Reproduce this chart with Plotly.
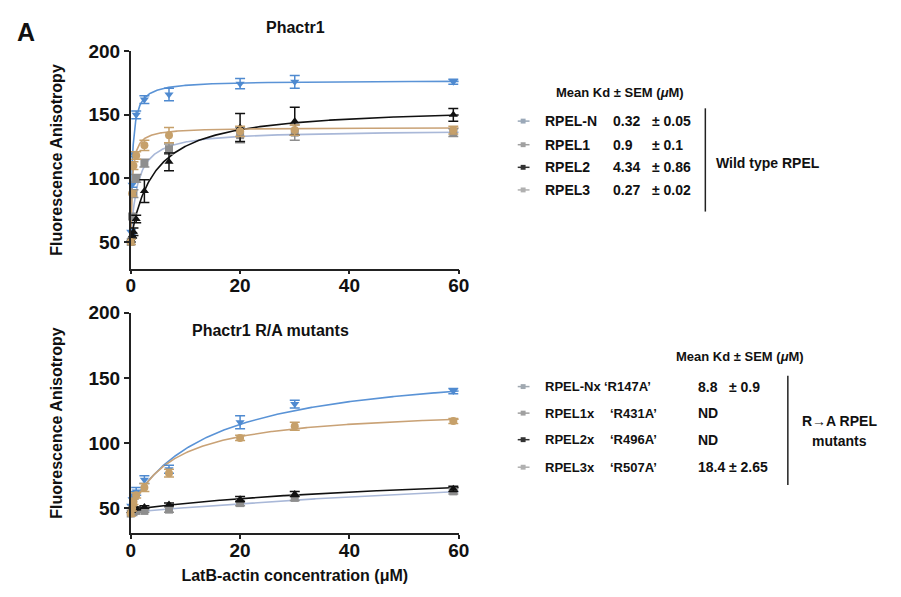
import numpy as np
import plotly.graph_objects as go

# ---------------- data ----------------
conc = [0, 0.25, 0.5, 1, 2.5, 7, 20, 30, 59]

# Top panel: Phactr1 wild type RPEL
top_names = ["RPEL-N", "RPEL1", "RPEL2", "RPEL3"]
top_vals = {
    "RPEL-N": [58, 95, 119, 150, 162, 166, 174.5, 176, 176],
    "RPEL1": [50, 70, 88, 100, 112, 123, 134, 136, 136],
    "RPEL2": [52, 55, 58, 68, 90, 113, 140, 145, 150],
    "RPEL3": [50, 88, 110, 118, 126, 134, 137, 138, 138],
}
top_err = {
    "RPEL-N": [2, 2, 2, 3, 3, 5, 4, 5, 2],
    "RPEL1": [2, 2, 3, 3, 3, 4, 6, 6, 3],
    "RPEL2": [2, 2, 3, 3, 9, 7, 11, 11, 5],
    "RPEL3": [2, 2, 3, 3, 4, 6, 4, 4, 3],
}
# fitted one-site curve parameters (baseline, amplitude, K)
top_fit = {
    "RPEL-N": (55, 122, 0.32),
    "RPEL1": (50, 88, 1.2),
    "RPEL2": (52, 105, 4.34),
    "RPEL3": (50, 90, 0.27),
}

# Bottom panel: Phactr1 R/A mutants
bot_names = ["RPEL-Nx", "RPEL1x", "RPEL2x", "RPEL3x"]
bot_vals = {
    "RPEL-Nx": [52, 57, 60, 63, 72, 80, 116, 130, 140],
    "RPEL1x": [46, 47, 47, 48, 48, 49, 54, 58, 63],
    "RPEL2x": [48, 49, 50, 50, 51, 53, 57, 61, 65],
    "RPEL3x": [46, 50, 55, 60, 66, 77, 104, 113, 117],
}
bot_err = {
    "RPEL-Nx": [2, 2, 3, 3, 3, 3, 5, 3, 2],
    "RPEL1x": [1, 1, 1, 1, 1, 2, 2, 2, 2],
    "RPEL2x": [1, 1, 1, 1, 1, 1, 2, 2, 2],
    "RPEL3x": [2, 2, 2, 2, 3, 3, 2, 3, 2],
}
bot_fit = {
    "RPEL-Nx": (52, 110.6, 15.4),
    "RPEL1x": (47, 55, 147),
    "RPEL2x": (49, 34.7, 62.6),
    "RPEL3x": (48, 79.6, 7.9),
}

top_table = [
    ("RPEL-N", "0.32", "± 0.05"),
    ("RPEL1", "0.9", "± 0.1"),
    ("RPEL2", "4.34", "± 0.86"),
    ("RPEL3", "0.27", "± 0.02"),
]
bot_table = [
    ("RPEL-Nx", "‘R147A’", "8.8", "± 0.9"),
    ("RPEL1x", "‘R431A’", "ND", ""),
    ("RPEL2x", "‘R496A’", "ND", ""),
    ("RPEL3x", "‘R507A’", "18.4", "± 2.65"),
]

# ---------------- styles ----------------
marker_color = ["#4f8ad0", "#8e8e8e", "#111111", "#c6a06a"]
line_color = ["#5a93d6", "#a9b8d8", "#111111", "#c9a276"]
symbols = ["triangle-down", "square", "triangle-up", "circle"]

FONT = "Liberation Sans, Arial, sans-serif"

fig = go.Figure()
xfit = np.linspace(0, 60, 400)


def add_panel(names, vals, errs, fits, xa, ya):
    for i, n in enumerate(names):
        y0, b, k = fits[n]
        fig.add_trace(go.Scatter(
            x=xfit, y=y0 + b * xfit / (k + xfit), mode="lines",
            line=dict(color=line_color[i], width=1.6),
            xaxis=xa, yaxis=ya, showlegend=False, hoverinfo="skip"))
    for i, n in enumerate(names):
        fig.add_trace(go.Scatter(
            x=conc, y=vals[n], mode="markers",
            marker=dict(symbol=symbols[i], size=8, color=marker_color[i]),
            error_y=dict(type="data", array=errs[n], color=marker_color[i],
                         thickness=1.5, width=5),
            xaxis=xa, yaxis=ya, showlegend=False, cliponaxis=False, name=n))


add_panel(top_names, top_vals, top_err, top_fit, "x", "y")
add_panel(bot_names, bot_vals, bot_err, bot_fit, "x2", "y2")

W, H = 901, 597
xdom = [128 / W, 462 / W]

axis_font = dict(family=FONT, size=19, color="#111111", weight="bold")
title_font = dict(family=FONT, size=16, color="#111111", weight="bold")
common_x = dict(range=[0, 60], tickvals=[0, 20, 40, 60], showline=True,
                linecolor="#222222", linewidth=1.5, ticks="outside", ticklen=4,
                tickwidth=1.5, tickcolor="#222222", showgrid=False, zeroline=False,
                tickfont=axis_font, domain=xdom, ticklabelstandoff=-5)
common_y = dict(tickvals=[50, 100, 150, 200], showline=True, linecolor="#222222",
                linewidth=1.5, ticks="outside", ticklen=5, tickwidth=1.5,
                tickcolor="#222222", showgrid=False, zeroline=False,
                tickfont=axis_font)

fig.update_layout(
    width=W, height=H, margin=dict(l=0, r=0, t=0, b=0),
    paper_bgcolor="white", plot_bgcolor="white",
    font=dict(family=FONT, color="#111111"),
    xaxis=dict(common_x, anchor="y"),
    yaxis=dict(common_y, range=[29, 200], domain=[1 - 263 / H, 1 - 42 / H],
               anchor="x",
               title=dict(text="Fluorescence Anisotropy", font=title_font,
                          standoff=22)),
    xaxis2=dict(common_x, anchor="y2",
                title=dict(text="LatB-actin concentration (μM)",
                           font=title_font, standoff=10)),
    yaxis2=dict(common_y, range=[31, 200], domain=[1 - 532 / H, 1 - 308 / H],
                anchor="x2",
                title=dict(text="Fluorescence Anisotropy", font=title_font,
                           standoff=22)),
)

ann = []


def txt(x, y, s, size=14, xanchor="left"):
    ann.append(dict(x=x / W, y=1 - y / H, xref="paper", yref="paper", text=s,
                    showarrow=False, xanchor=xanchor, yanchor="middle",
                    font=dict(family=FONT, size=size, color="#111111")))


txt(10, 22, "<b>A</b>", size=25)
txt(296, 18, "<b>Phactr1</b>", size=16, xanchor="center")
txt(270, 326, "<b>Phactr1 R/A mutants</b>", size=16, xanchor="center")

# top table
txt(626, 84, "<b>Mean Kd ± SEM (<i>μ</i>M)</b>", size=13, xanchor="center")
rows_top = [113, 137, 160, 183]
for (nm, v, e), yy in zip(top_table, rows_top):
    txt(548, yy, "<b>" + nm + "</b>", size=14)
    txt(617, yy, "<b>" + v + "</b>", size=14)
    txt(657, yy, "<b>" + e + "</b>", size=14)
txt(722, 156, "<b>Wild type RPEL</b>", size=14)

# bottom table
txt(748, 352, "<b>Mean Kd ± SEM (<i>μ</i>M)</b>", size=13, xanchor="center")
rows_bot = [383, 410, 437, 465]
for (nm, mut, v, e), yy in zip(bot_table, rows_bot):
    txt(548, yy, "<b>" + nm + "</b>", size=13)
    txt(608 if nm == "RPEL-Nx" else 614, yy, "<b>" + mut + "</b>", size=13)
    txt(703, yy, "<b>" + v + "</b>", size=14)
    txt(735, yy, "<b>" + e + "</b>", size=14)
txt(850, 418, "<b>R→A RPEL</b>", size=14, xanchor="center")
txt(850, 438, "<b>mutants</b>", size=14, xanchor="center")

shapes = [
    dict(type="line", xref="paper", yref="paper", x0=713 / W, x1=713 / W,
         y0=1 - 100 / H, y1=1 - 205 / H, line=dict(color="#222222", width=1.5)),
    dict(type="line", xref="paper", yref="paper", x0=797 / W, x1=797 / W,
         y0=1 - 372 / H, y1=1 - 483 / H, line=dict(color="#222222", width=1.5)),
]
# faint legend keys
for rows, cols in ((rows_top, ["#9aa8b8", "#a0a0a0", "#333333", "#b0b0b0"]),
                   (rows_bot, ["#a0a8b0", "#a0a0a0", "#333333", "#b0b0b0"])):
    for yy, c in zip(rows, cols):
        shapes.append(dict(type="line", xref="paper", yref="paper", x0=522 / W,
                           x1=534 / W, y0=1 - yy / H, y1=1 - yy / H,
                           line=dict(color=c, width=1.5)))
        shapes.append(dict(type="rect", xref="paper", yref="paper", x0=525 / W,
                           x1=530 / W, y0=1 - (yy - 2.5) / H,
                           y1=1 - (yy + 2.5) / H, line=dict(width=0),
                           fillcolor=c))

fig.update_layout(annotations=ann, shapes=shapes)
fig.write_html("out.html")
